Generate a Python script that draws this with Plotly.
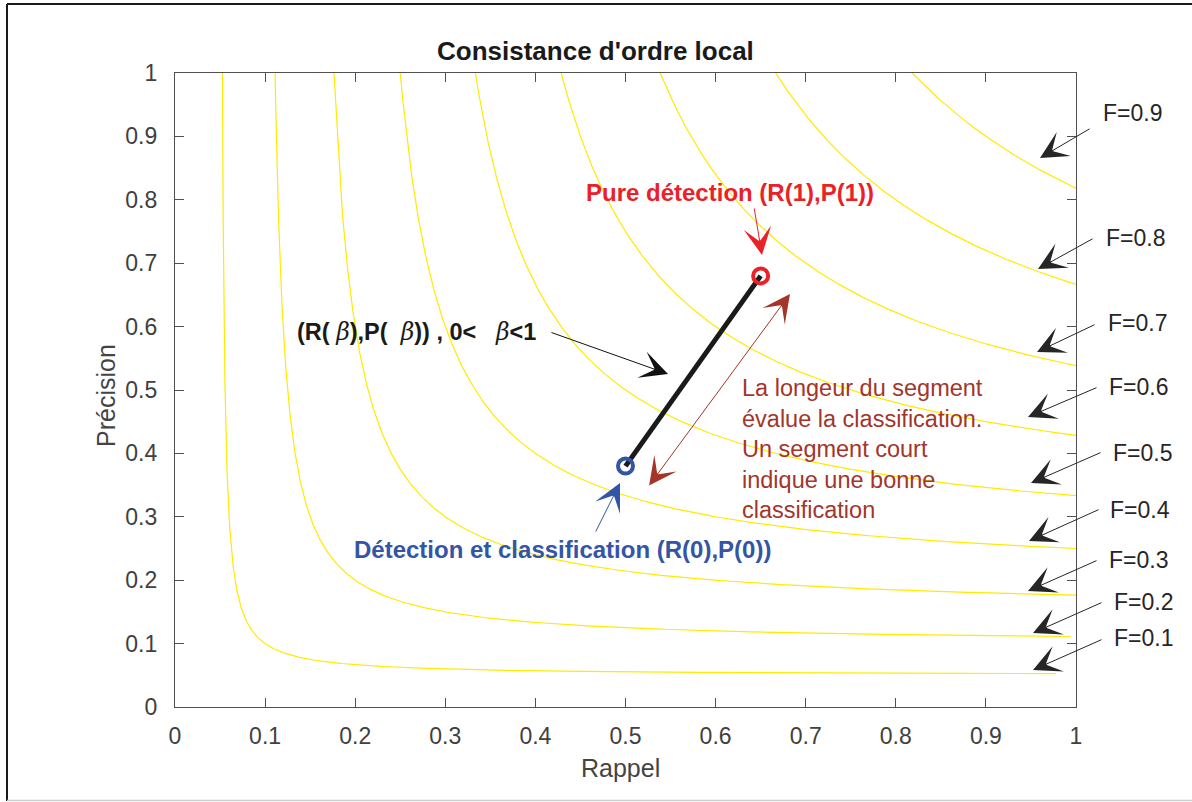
import numpy as np
import plotly.graph_objects as go

# ---------------- data ----------------
f_levels = [0.1, 0.2, 0.3, 0.4, 0.5, 0.6, 0.7, 0.8, 0.9]
r_end = [0.978, 0.994, 1.0, 1.0, 1.0, 1.0, 1.0, 1.0, 1.0]
f_labels = ["F=0.1", "F=0.2", "F=0.3", "F=0.4", "F=0.5", "F=0.6", "F=0.7", "F=0.8", "F=0.9"]
seg_recall = [0.50, 0.65]      # beta = 0 , beta = 1
seg_precision = [0.38, 0.68]
tick_vals = [0, 0.1, 0.2, 0.3, 0.4, 0.5, 0.6, 0.7, 0.8, 0.9, 1]
tick_text = ["0", "0.1", "0.2", "0.3", "0.4", "0.5", "0.6", "0.7", "0.8", "0.9", "1"]

# ---------------- layout helpers (pixel geometry) ----------------
W, H = 1192, 802
L, R, T, B = 175, 1076, 73, 707


def dx(px):
    return (px - L) / (R - L)


def dy(py):
    return (B - py) / (B - T)


FONT = "Liberation Sans, Arial, Helvetica, sans-serif"
YELLOW = "#FFEA00"
RED = "#EB2128"
BLUE = "#3355A5"
BROWN = "#A3352A"
DARK = "#262626"
AXC = "#505050"

fig = go.Figure()

# iso-F curves  P = F R / (2R - F)
t = np.linspace(0, 1, 700)
for f, re in zip(f_levels, r_end):
    r0 = f / (2 - f)
    r = r0 + (re - r0) * t ** 3
    p = f * r / (2 * r - f)
    fig.add_trace(go.Scatter(x=r, y=p, mode="lines",
                             line=dict(color=YELLOW, width=1.2),
                             hoverinfo="skip", showlegend=False))

# segment
fig.add_trace(go.Scatter(x=seg_recall, y=seg_precision, mode="lines",
                         line=dict(color="#1a1a1a", width=5),
                         hoverinfo="skip", showlegend=False))
fig.add_trace(go.Scatter(x=[seg_recall[1]], y=[seg_precision[1]], mode="markers",
                         marker=dict(symbol="circle-open", size=15, color=RED,
                                     line=dict(width=4, color=RED)),
                         showlegend=False))
fig.add_trace(go.Scatter(x=[seg_recall[0]], y=[seg_precision[0]], mode="markers",
                         marker=dict(symbol="circle-open", size=15, color=BLUE,
                                     line=dict(width=4, color=BLUE)),
                         showlegend=False))

annotations = []


def arrow(tip, tail, color, size=4.6, both=False):
    a = dict(x=dx(tip[0]), y=dy(tip[1]), ax=dx(tail[0]), ay=dy(tail[1]),
             xref="x", yref="y", axref="x", ayref="y", text="",
             showarrow=True, arrowhead=3, arrowsize=size, arrowwidth=1,
             arrowcolor=color)
    if both:
        a.update(arrowside="end+start", startarrowhead=3, startarrowsize=size)
    annotations.append(a)


def label(px, py, text, color, size, bold=False, xanchor="center", yanchor="middle",
          angle=0, align="center"):
    annotations.append(dict(x=dx(px), y=dy(py), xref="paper", yref="paper", text=text,
                            showarrow=False, xanchor=xanchor, yanchor=yanchor,
                            textangle=angle, align=align,
                            font=dict(family=FONT, size=size, color=color,
                                      weight="bold" if bold else "normal")))


# F-level arrows and labels
f_tips = [(1033, 670), (1033, 633), (1028, 591), (1029, 541), (1031, 483),
          (1028, 417), (1037, 352), (1038, 269), (1040, 158)]
f_tails = [(1103, 639), (1103, 602), (1098, 560), (1100, 509), (1102, 452),
           (1098, 387), (1096, 324), (1094, 238), (1091, 128)]
f_text = [(1143, 638), (1143, 602), (1138, 560), (1140, 510), (1142, 453),
          (1138, 387), (1137, 323), (1135, 238), (1132, 113)]
for lab, tip, tail, tp in zip(f_labels, f_tips, f_tails, f_text):
    arrow(tip, tail, DARK)
    label(tp[0], tp[1], lab, DARK, 23)

# point arrows
arrow((762, 255), (754, 207), RED)
arrow((620, 483), (595, 533), BLUE)
arrow((668, 374), (550, 332), "#111111")
arrow((790, 294), (648, 487), BROWN, both=True)

label(730, 192, "Pure détection (R(1),P(1))", RED, 24, bold=True)
label(562, 549, "Détection et classification (R(0),P(0))", BLUE, 24, bold=True)
beta = "<span style='font-family:DejaVu Serif;font-weight:normal'><i>β</i></span>"
label(295, 332,
      "<b>(R(\u00a0" + beta + "),P(\u00a0\u00a0" + beta + ")) , 0&lt;\u00a0\u00a0\u00a0" + beta + "&lt;1</b>",
      "#1a1a1a", 23.5, xanchor="left", align="left")
label(740, 449,
      "La longeur du segment<br>évalue la classification.<br>Un segment court<br>indique une bonne<br>classification",
      BROWN, 23.5, xanchor="left", align="left")

# title and axis titles
label(595, 51, "Consistance d'ordre local", "#1a1a1a", 26, bold=True)
label(620, 768, "Rappel", "#444444", 25)
label(106, 396, "Précision", "#444444", 25, angle=-90)

axis_common = dict(range=[0, 1], tickvals=tick_vals, ticktext=tick_text,
                   showline=True, linecolor=AXC, linewidth=1.3, mirror="ticks",
                   ticks="inside", ticklen=9, tickwidth=1.3, tickcolor=AXC,
                   showgrid=False, zeroline=False,
                   tickfont=dict(family=FONT, size=23, color="#404040"))

fig.update_layout(
    width=W, height=H,
    margin=dict(l=L, r=W - R, t=T, b=H - B, autoexpand=False),
    paper_bgcolor="white", plot_bgcolor="white",
    xaxis=dict(**axis_common, ticklabelstandoff=8),
    yaxis=dict(**axis_common, ticklabelstandoff=12),
    annotations=annotations,
    showlegend=False,
    shapes=[
        dict(type="line", xref="paper", yref="paper", x0=dx(7), x1=dx(1195), y0=dy(4), y1=dy(4),
             line=dict(color="#1a1a1a", width=2)),
        dict(type="line", xref="paper", yref="paper", x0=dx(7), x1=dx(7), y0=dy(4), y1=dy(801),
             line=dict(color="#1a1a1a", width=2)),
        dict(type="line", xref="paper", yref="paper", x0=dx(7), x1=dx(1195), y0=dy(800.5), y1=dy(800.5),
             line=dict(color="#cfcfcf", width=1.5)),
    ],
)

fig.write_html("out.html", config={"displayModeBar": False},
               post_script="document.body.style.margin='0';document.body.style.overflow='hidden';")
